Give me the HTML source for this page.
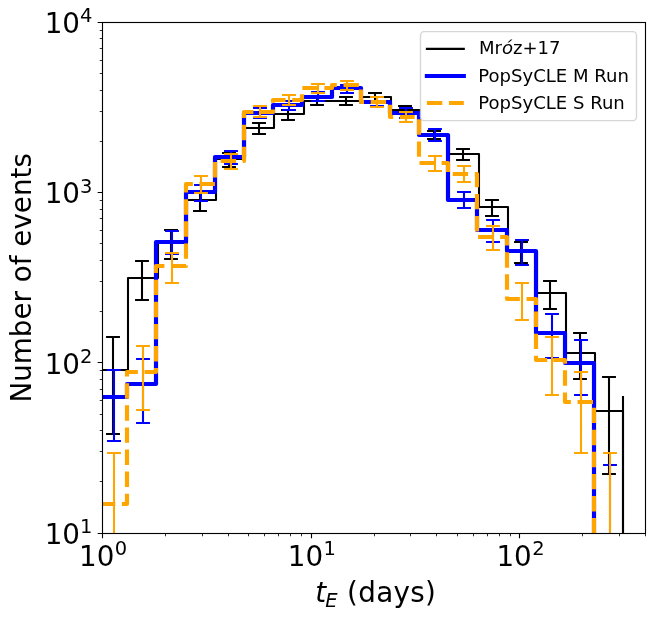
<!DOCTYPE html>
<html><head><meta charset="utf-8"><title>Number of events vs tE</title>
<style>html,body{margin:0;padding:0;background:#fff}body{width:654px;height:620px;overflow:hidden}</style></head>
<body>
<svg width="654" height="620" viewBox="0 0 654 620" style="display:block">
<rect width="654" height="620" fill="#fff"/>
<defs><clipPath id="ax"><rect x="102.5" y="22.5" width="543.0" height="511.0"/></clipPath></defs>
<g clip-path="url(#ax)" fill="none">
<path d="M98.00,370.00 L128.00,370.00 L128.00,278.00 L158.00,278.00 L158.00,243.00 L187.00,243.00 L187.00,200.00 L216.00,200.00 L216.00,159.00 L245.00,159.00 L245.00,128.00 L274.00,128.00 L274.00,114.00 L304.00,114.00 L304.00,101.00 L333.00,101.00 L333.00,101.00 L362.00,101.00 L362.00,97.00 L391.00,97.00 L391.00,110.00 L420.00,110.00 L420.00,135.00 L449.00,135.00 L449.00,154.00 L479.00,154.00 L479.00,207.00 L508.00,207.00 L508.00,252.00 L537.00,252.00 L537.00,293.00 L566.00,293.00 L566.00,353.00 L595.00,353.00 L595.00,411.00 L623.00,411.00 L623.00,560.00" stroke="#000" stroke-width="2.08" stroke-linejoin="round"/>
<path d="M623,396V560" stroke="#000" stroke-width="2.08"/>
<path d="M113,337.00V434.00M106.05,337.00H119.95M106.05,434.00H119.95M142,261.00V300.00M135.05,261.00H148.95M135.05,300.00H148.95M171,230.00V259.00M164.05,230.00H177.95M164.05,259.00H177.95M200,192.00V211.00M193.05,192.00H206.95M193.05,211.00H206.95M229,153.00V167.00M222.05,153.00H235.95M222.05,167.00H235.95M259,123.00V134.00M252.05,123.00H265.95M252.05,134.00H265.95M288,110.00V120.00M281.05,110.00H294.95M281.05,120.00H294.95M317,97.00V105.00M310.05,97.00H323.95M310.05,105.00H323.95M346,97.00V105.00M339.05,97.00H352.95M339.05,105.00H352.95M375,93.00V101.00M368.05,93.00H381.95M368.05,101.00H381.95M405,106.00V114.00M398.05,106.00H411.95M398.05,114.00H411.95M434,131.00V139.00M427.05,131.00H440.95M427.05,139.00H440.95M463,149.00V160.00M456.05,149.00H469.95M456.05,160.00H469.95M492,200.00V216.00M485.05,200.00H498.95M485.05,216.00H498.95M521,242.00V263.00M514.05,242.00H527.95M514.05,263.00H527.95M550,281.00V309.00M543.05,281.00H556.95M543.05,309.00H556.95M580,333.00V379.00M573.05,333.00H586.95M573.05,379.00H586.95M609,377.00V474.00M602.05,377.00H615.95M602.05,474.00H615.95" stroke="#000" stroke-width="2.08"/>
<path d="M98.00,397.00 L127.00,397.00 L127.00,384.00 L156.00,384.00 L156.00,242.00 L186.00,242.00 L186.00,192.00 L215.00,192.00 L215.00,157.00 L244.00,157.00 L244.00,113.00 L273.00,113.00 L273.00,105.00 L302.00,105.00 L302.00,97.00 L332.00,97.00 L332.00,88.00 L361.00,88.00 L361.00,102.00 L390.00,102.00 L390.00,113.00 L419.00,113.00 L419.00,135.00 L448.00,135.00 L448.00,200.00 L477.00,200.00 L477.00,230.00 L507.00,230.00 L507.00,251.00 L536.00,251.00 L536.00,333.00 L565.00,333.00 L565.00,363.00 L594.00,363.00 L594.00,560.00 L623.00,560.00" stroke="#0000ff" stroke-width="4.17" stroke-linejoin="round"/>
<path d="M114,370.00V441.00M107.05,370.00H120.95M107.05,441.00H120.95M143,359.00V423.00M136.05,359.00H149.95M136.05,423.00H149.95M172,231.00V254.00M165.05,231.00H178.95M165.05,254.00H178.95M201,185.00V201.00M194.05,185.00H207.95M194.05,201.00H207.95M231,151.00V164.00M224.05,151.00H237.95M224.05,164.00H237.95M260,108.00V118.00M253.05,108.00H266.95M253.05,118.00H266.95M289,101.00V110.00M282.05,101.00H295.95M282.05,110.00H295.95M318,92.00V101.00M311.05,92.00H324.95M311.05,101.00H324.95M347,85.00V93.00M340.05,85.00H353.95M340.05,93.00H353.95M377,97.00V106.00M370.05,97.00H383.95M370.05,106.00H383.95M406,108.00V118.00M399.05,108.00H412.95M399.05,118.00H412.95M435,129.00V141.00M428.05,129.00H441.95M428.05,141.00H441.95M464,192.00V208.00M457.05,192.00H470.95M457.05,208.00H470.95M493,220.00V242.00M486.05,220.00H499.95M486.05,242.00H499.95M522,240.00V265.00M515.05,240.00H528.95M515.05,265.00H528.95M552,314.00V358.00M545.05,314.00H558.95M545.05,358.00H558.95M581,340.00V395.00M574.05,340.00H587.95M574.05,395.00H587.95M610,465.00V560.00M603.05,465.00H616.95" stroke="#0000ff" stroke-width="2.08"/>
<path d="M98.00,504.00 L127.00,504.00 L127.00,372.00 L156.00,372.00 L156.00,266.00 L186.00,266.00 L186.00,184.00 L215.00,184.00 L215.00,161.00 L244.00,161.00 L244.00,112.00 L273.00,112.00 L273.00,100.00 L302.00,100.00 L302.00,88.00 L332.00,88.00 L332.00,85.00 L361.00,85.00 L361.00,102.00 L390.00,102.00 L390.00,117.00 L406.00,117.00" stroke="#ffa500" stroke-width="4.17" stroke-linejoin="round" stroke-dasharray="15.42 6.67" stroke-dashoffset="20.29"/>
<path d="M406.00,117.00 L419.00,117.00 L419.00,163.00 L448.00,163.00 L448.00,174.00 L477.00,174.00 L477.00,237.00 L507.00,237.00 L507.00,299.00 L536.00,299.00 L536.00,360.00 L552.00,360.00" stroke="#ffa500" stroke-width="4.17" stroke-linejoin="round" stroke-dasharray="15.42 6.67" stroke-dashoffset="6.74"/>
<path d="M552.00,360.00 L565.00,360.00 L565.00,402.00 L594.00,402.00 L594.00,560.00 L623.00,560.00" stroke="#ffa500" stroke-width="4.17" stroke-linejoin="round" stroke-dasharray="15.42 6.67" stroke-dashoffset="20.81"/>
<path d="M114,453.00V560.00M107.05,453.00H120.95M143,346.00V410.00M136.05,346.00H149.95M136.05,410.00H149.95M172,253.00V283.00M165.05,253.00H178.95M165.05,283.00H178.95M201,176.00V193.00M194.05,176.00H207.95M194.05,193.00H207.95M231,154.00V169.00M224.05,154.00H237.95M224.05,169.00H237.95M260,106.00V117.00M253.05,106.00H266.95M253.05,117.00H266.95M289,95.00V105.00M282.05,95.00H295.95M282.05,105.00H295.95M318,84.00V93.00M311.05,84.00H324.95M311.05,93.00H324.95M347,81.00V90.00M340.05,81.00H353.95M340.05,90.00H353.95M377,97.00V107.00M370.05,97.00H383.95M370.05,107.00H383.95M406,112.00V122.00M399.05,112.00H412.95M399.05,122.00H412.95M435,156.00V171.00M428.05,156.00H441.95M428.05,171.00H441.95M464,166.00V182.00M457.05,166.00H470.95M457.05,182.00H470.95M493,226.00V250.00M486.05,226.00H499.95M486.05,250.00H499.95M522,283.00V320.00M515.05,283.00H528.95M515.05,320.00H528.95M552,337.00V395.00M545.05,337.00H558.95M545.05,395.00H558.95M581,372.00V453.00M574.05,372.00H587.95M574.05,453.00H587.95M610,453.00V560.00M603.05,453.00H616.95" stroke="#ffa500" stroke-width="2.08"/>
</g>
<rect x="102.5" y="22.5" width="543.0" height="511.0" fill="none" stroke="#000" stroke-width="1.11"/>
<path d="M102.5,533.5v4.86M311.5,533.5v4.86M519.5,533.5v4.86M102.5,533.5h-4.86M102.5,362.5h-4.86M102.5,192.5h-4.86M102.5,22.5h-4.86" stroke="#000" stroke-width="1.11" fill="none"/>
<path d="M165.5,533.5v2.78M202.5,533.5v2.78M228.5,533.5v2.78M248.5,533.5v2.78M264.5,533.5v2.78M278.5,533.5v2.78M290.5,533.5v2.78M301.5,533.5v2.78M374.5,533.5v2.78M410.5,533.5v2.78M436.5,533.5v2.78M457.5,533.5v2.78M473.5,533.5v2.78M487.5,533.5v2.78M499.5,533.5v2.78M510.5,533.5v2.78M582.5,533.5v2.78M619.5,533.5v2.78M645.5,533.5v2.78M102.5,481.5h-2.78M102.5,451.5h-2.78M102.5,430.5h-2.78M102.5,414.5h-2.78M102.5,400.5h-2.78M102.5,389.5h-2.78M102.5,379.5h-2.78M102.5,370.5h-2.78M102.5,311.5h-2.78M102.5,281.5h-2.78M102.5,260.5h-2.78M102.5,243.5h-2.78M102.5,230.5h-2.78M102.5,218.5h-2.78M102.5,209.5h-2.78M102.5,200.5h-2.78M102.5,141.5h-2.78M102.5,111.5h-2.78M102.5,90.5h-2.78M102.5,73.5h-2.78M102.5,60.5h-2.78M102.5,48.5h-2.78M102.5,38.5h-2.78M102.5,30.5h-2.78" stroke="#000" stroke-width="0.83" fill="none"/>
<g font-family="'DejaVu Sans','Liberation Sans',sans-serif" fill="#000">
<text x="44.65" y="544.00" font-size="27.78">10<tspan x="80.1" y="533.20" font-size="19.44">1</tspan></text>
<text x="44.65" y="373.67" font-size="27.78">10<tspan x="80.1" y="362.87" font-size="19.44">2</tspan></text>
<text x="44.65" y="203.33" font-size="27.78">10<tspan x="80.1" y="192.53" font-size="19.44">3</tspan></text>
<text x="44.65" y="33.00" font-size="27.78">10<tspan x="80.1" y="22.20" font-size="19.44">4</tspan></text>
<text x="79.10" y="565.8" font-size="27.78">10<tspan x="114.80" y="554.6" font-size="19.44">0</tspan></text>
<text x="287.78" y="565.8" font-size="27.78">10<tspan x="323.48" y="554.6" font-size="19.44">1</tspan></text>
<text x="496.46" y="565.8" font-size="27.78">10<tspan x="532.16" y="554.6" font-size="19.44">2</tspan></text>
<text x="315.2" y="602.3" font-size="27.78"><tspan font-style="italic">t</tspan><tspan x="325.3" y="606.9" font-size="19.44" font-style="italic">E</tspan><tspan x="337.97" y="602.3" letter-spacing="0.3"> (days)</tspan></text>
<text transform="translate(30.7,402.6) rotate(-90)" font-size="27.78">Number of events</text>
<rect x="420.5" y="31.6" width="216" height="89" rx="3.6" fill="#fff" fill-opacity="0.8" stroke="#ccc" stroke-opacity="0.8" stroke-width="1.39"/>
<path d="M426.9,48.9H463.8" stroke="#000" stroke-width="2.08" stroke-linecap="square"/>
<path d="M426.9,76H463.8" stroke="#0000ff" stroke-width="4.17" stroke-linecap="square"/>
<path d="M426.9,103H463.8" stroke="#ffa500" stroke-width="4.17" stroke-dasharray="15.42 6.67"/>
<text x="478.9" y="54" font-size="18.06">Mr<tspan font-style="italic">ó</tspan>z+17</text>
<text x="478.3" y="81.7" font-size="18.06">PopSyCLE M Run</text>
<text x="478.3" y="108.8" font-size="18.06">PopSyCLE S Run</text>
</g>
</svg>
</body></html>
